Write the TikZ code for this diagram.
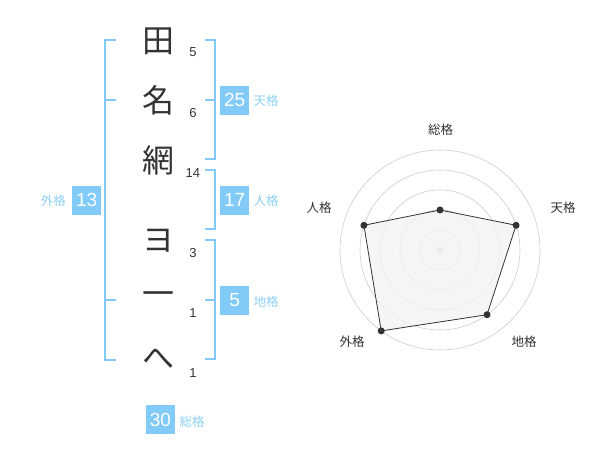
\documentclass[tikz,border=0pt]{standalone}
\usepackage{fontspec}
\setmainfont{Liberation Sans}
\newfontfamily\cjk{Noto Sans CJK JP}
\usepackage{tikz}
\usetikzlibrary{positioning}
\definecolor{kakublue}{HTML}{82CBF8}
\definecolor{kakutext}{HTML}{8CD0F6}
\definecolor{inkgray}{HTML}{333333}
\definecolor{ringgray}{HTML}{CCCCCC}
\definecolor{radarfill}{HTML}{F2F2F2}

\begin{document}
\begin{tikzpicture}[x=1pt,y=-1pt,
 moji/.style={font=\cjk\fontsize{32}{32}\selectfont,text=inkgray,inner sep=0pt},
 kaku/.style={font=\fontsize{13}{13}\selectfont,text=inkgray,inner sep=0pt},
 bracket/.style={draw=kakublue,line width=2pt},
 numbox/.style={fill=kakublue,text=white,minimum size=29pt,inner sep=0pt,font=\fontsize{19}{19}\selectfont},
 boxlabel/.style={text=kakutext,font=\cjk\fontsize{12.5}{12.5}\selectfont,inner sep=0pt},
 axislabel/.style={text=inkgray,font=\cjk\fontsize{12.5}{12.5}\selectfont,inner sep=0pt},
 ring/.style={draw=ringgray,line width=0.6pt},
 dot/.style={circle,fill=inkgray,inner sep=0pt,minimum size=7pt}]
 \useasboundingbox (0,0) rectangle (600,470);

 % name characters and stroke counts
 \node[moji] (c1) at (158.5,41) {田};
 \node[moji] (c2) at (158.5,100.5) {名};
 \node[moji] (c3) at (158.5,160.5) {網};
 \node[moji] (c4) at (158.5,241) {ヨ};
 \node[moji] (c5) at (158.5,299) {一};
 \node[moji] (c6) at (158.5,359) {へ};
 \node[kaku] (n1) at (193,52) {5};
 \node[kaku] (n2) at (193,112.7) {6};
 \node[kaku] (n3) at (192.8,173) {14};
 \node[kaku] (n4) at (193,252.7) {3};
 \node[kaku] (n5) at (193,313) {1};
 \node[kaku] (n6) at (193,373) {1};

 % brackets
 \coordinate (gai-a) at (116,40);
 \coordinate (gai-b) at (116,100);
 \coordinate (gai-c) at (116,300);
 \coordinate (gai-d) at (116,360);
 \draw[bracket] (gai-a) -- ++(-11,0) |- (gai-d);
 \draw[bracket] (gai-b) -- ++(-11,0);
 \draw[bracket] (gai-c) -- ++(-11,0);

 \coordinate (ten-a) at (205,40);
 \coordinate (ten-b) at (205,100);
 \coordinate (ten-c) at (205,159.5);
 \draw[bracket] (ten-a) -- ++(9.5,0) |- (ten-c);
 \draw[bracket] (ten-b) -- ++(9.5,0);

 \coordinate (jin-a) at (205,170);
 \coordinate (jin-b) at (205,229.5);
 \draw[bracket] (jin-a) -- ++(9.5,0) |- (jin-b);

 \coordinate (chi-a) at (205,240);
 \coordinate (chi-b) at (205,300);
 \coordinate (chi-c) at (205,359.5);
 \draw[bracket] (chi-a) -- ++(9.5,0) |- (chi-c);
 \draw[bracket] (chi-b) -- ++(9.5,0);

 % totals
 \node[numbox] (b-ten) at (234.7,100.3) {25};
 \node[boxlabel] (l-ten) at (266,100.5) {天格};
 \node[numbox] (b-jin) at (234.7,200.3) {17};
 \node[boxlabel] (l-jin) at (266,200.5) {人格};
 \node[numbox] (b-chi) at (234.7,300.3) {5};
 \node[boxlabel] (l-chi) at (266,302) {地格};
 \node[numbox] (b-gai) at (86.7,200.3) {13};
 \node[boxlabel] (l-gai) at (53.3,200.5) {外格};
 \node[numbox] (b-so) at (160.5,419.5) {30};
 \node[boxlabel] (l-so) at (192,421.5) {総格};

 % radar
 \begin{scope}[shift={(440,250)},y=1pt]
 \foreach \r in {20,40,...,100}
 \draw[ring] (0,0) circle (\r);
 \fill[ringgray] (0,0) circle (3.5);
 \foreach \name/\ang/\val in {so/90/40,ten/18/80,chi/-54/80,gai/-126/100,jin/162/80}
 \coordinate (p-\name) at (\ang:\val);
 \draw[fill=radarfill,fill opacity=0.8,draw=inkgray,line width=0.8pt]
 (p-so) -- (p-ten) -- (p-chi) -- (p-gai) -- (p-jin) -- cycle;
 \foreach \name in {so,ten,chi,gai,jin}
 \node[dot] (d-\name) at (p-\name) {};
 \node[axislabel] (a-so) at (0.7,120) {総格};
 \node[axislabel] (a-ten) at (123,42) {天格};
 \node[axislabel] (a-chi) at (84,-92) {地格};
 \node[axislabel] (a-gai) at (-88,-92) {外格};
 \node[axislabel] (a-jin) at (-121,42) {人格};
 \end{scope}
\end{tikzpicture}
\end{document}
